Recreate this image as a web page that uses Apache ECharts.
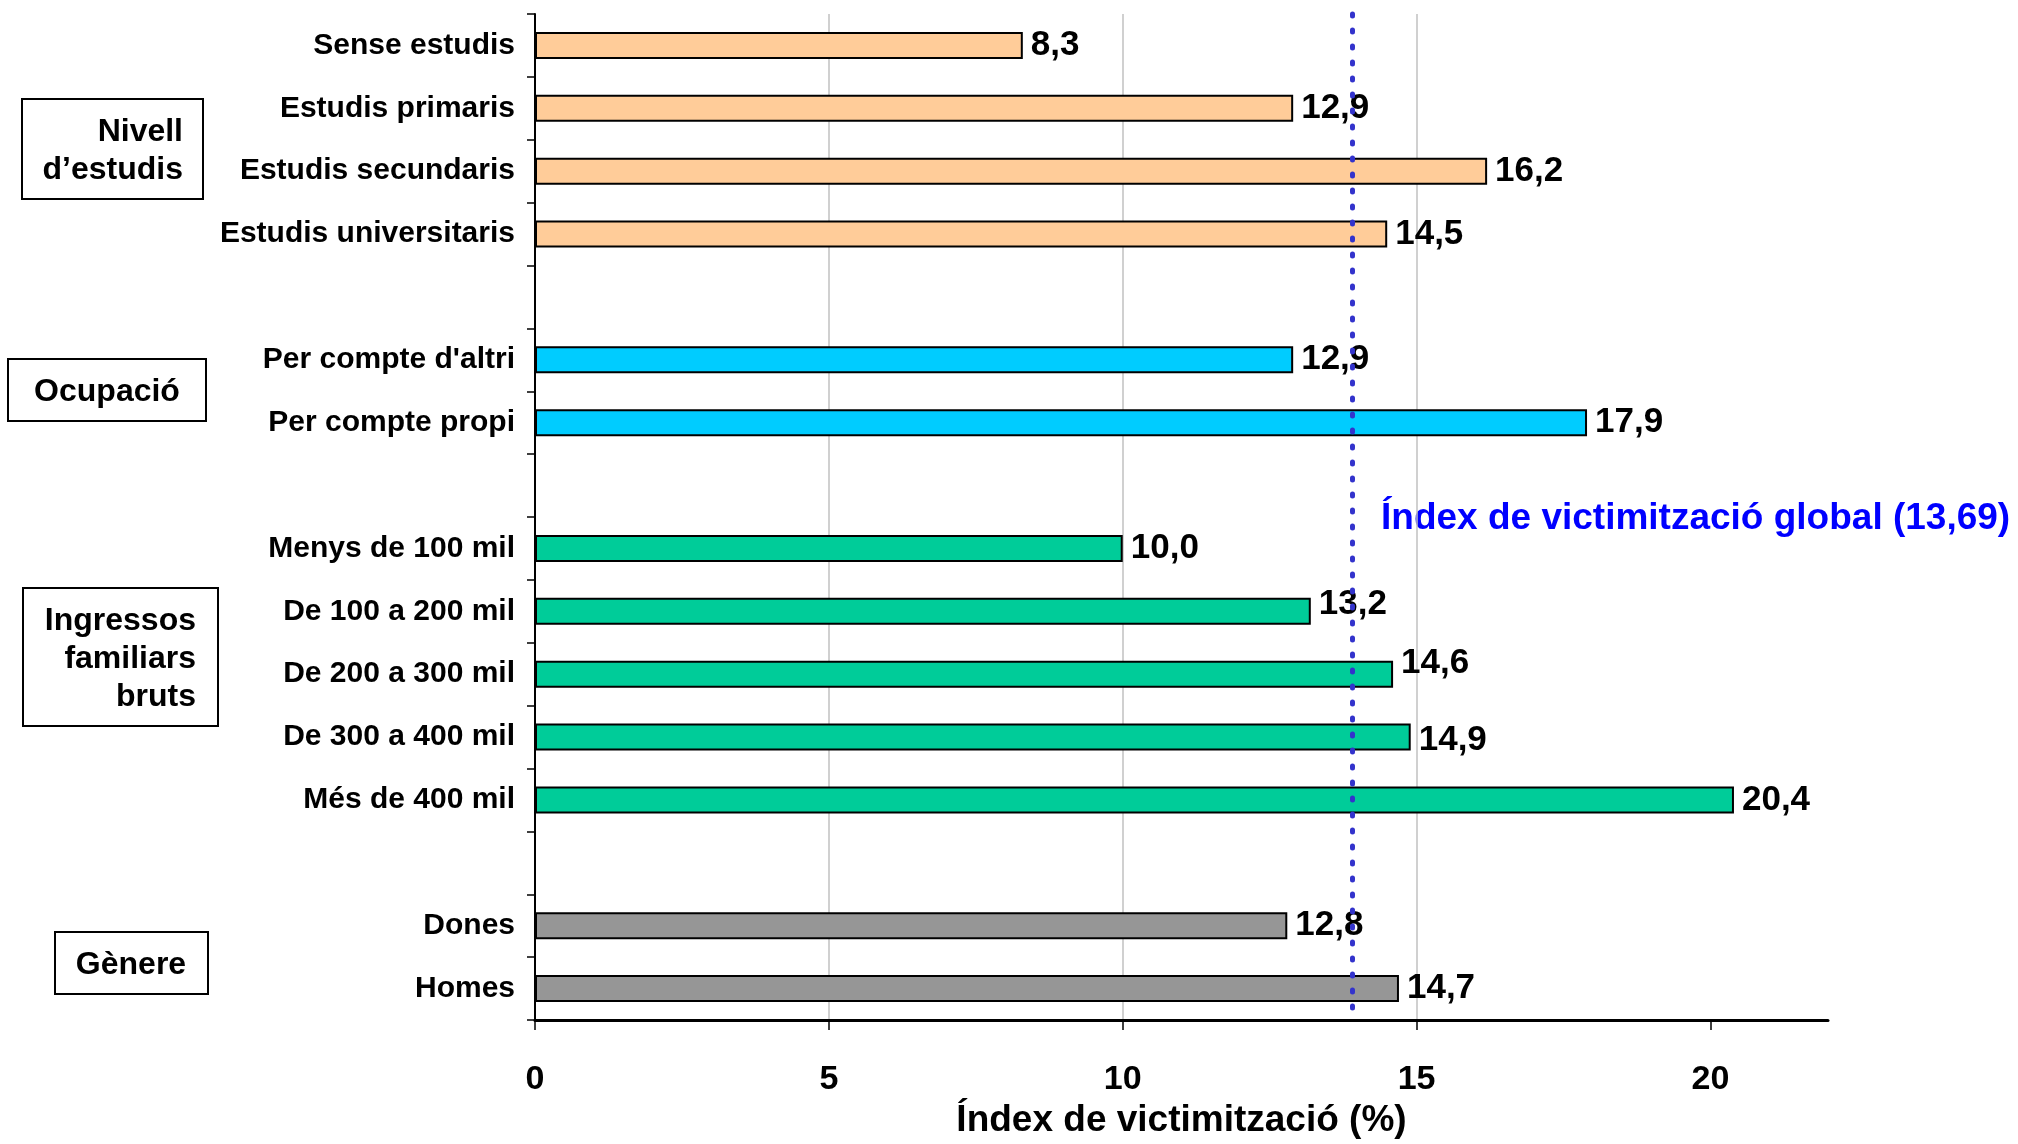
<!DOCTYPE html>
<html>
<head>
<meta charset="utf-8">
<script src="https://cdn.jsdelivr.net/npm/echarts@6/dist/echarts.min.js"></script>
<style>
  html, body { margin: 0; padding: 0; background: #fff; }
  #chart { width: 2018px; height: 1144px; }
</style>
</head>
<body>
<div id="chart"></div>
<script>
// categories top to bottom, '' = gap row between groups
const categories = [
  'Sense estudis', 'Estudis primaris', 'Estudis secundaris', 'Estudis universitaris',
  '',
  "Per compte d'altri", 'Per compte propi',
  '',
  'Menys de 100 mil', 'De 100 a 200 mil', 'De 200 a 300 mil', 'De 300 a 400 mil', 'Més de 400 mil',
  '',
  'Dones', 'Homes'
];
const values = [8.3, 12.9, 16.2, 14.5, null, 12.9, 17.9, null, 10.0, 13.2, 14.6, 14.9, 20.4, null, 12.8, 14.7];
// group of each row: 0 estudis, 1 ocupacio, 2 ingressos, 3 genere
const groups = [0, 0, 0, 0, null, 1, 1, null, 2, 2, 2, 2, 2, null, 3, 3];
const groupNames = ['Nivell\nd’estudis', 'Ocupació', 'Ingressos\nfamiliars\nbruts', 'Gènere'];
const xTicks = [0, 5, 10, 15, 20];
const globalIndexLabel = 'Índex de victimització global (13,69)';
const globalIndexLine = 13.9; // where the dotted line sits in the picture

const FONT = '"Liberation Sans", Arial, sans-serif';
const groupColors = ['#FFCC99', '#00CCFF', '#00CC99', '#969696'];
// a few value labels sit a bit off the bar centre in the original
const labelShift = { 'De 100 a 200 mil': -7, 'De 200 a 300 mil': -11, 'De 300 a 400 mil': 3 };

const chart = echarts.init(document.getElementById('chart'));

const barData = values.map((v, i) => {
  if (v === null) return null;
  const item = {
    value: v,
    itemStyle: { color: groupColors[groups[i]] }
  };
  if (labelShift[categories[i]]) {
    item.label = { offset: [0, labelShift[categories[i]]] };
  }
  return item;
});

function groupBox(id, text, box, align, textX, textY) {
  return {
    type: 'group',
    id,
    silent: true,
    children: [
      {
        type: 'rect',
        shape: { x: box[0], y: box[1], width: box[2], height: box[3] },
        style: { fill: '#fff', stroke: '#000', lineWidth: 2 }
      },
      {
        type: 'text',
        x: textX,
        y: textY,
        style: {
          text,
          align,
          verticalAlign: 'middle',
          font: 'bold 32px ' + FONT,
          lineHeight: 38,
          fill: '#000'
        }
      }
    ]
  };
}

const option = {
  backgroundColor: '#fff',
  animation: false,
  grid: {
    left: 535,
    right: 190,
    top: 14,
    bottom: 118,
    containLabel: false
  },
  xAxis: {
    type: 'value',
    min: 0,
    max: 22,
    interval: 5,
    name: 'Índex de victimització (%)',
    nameLocation: 'middle',
    nameGap: 82,
    nameTextStyle: {
      color: '#000',
      fontWeight: 'bold',
      fontSize: 37,
      fontFamily: FONT
    },
    axisLine: {
      show: true,
      lineStyle: { color: '#000', width: 3 }
    },
    axisTick: {
      show: true,
      length: 10,
      customValues: xTicks,
      lineStyle: { color: '#000', width: 1.5 }
    },
    axisLabel: {
      color: '#000',
      fontWeight: 'bold',
      fontSize: 34,
      fontFamily: FONT,
      margin: 43,
      customValues: xTicks
    },
    splitLine: {
      show: true,
      showMinLine: false,
      showMaxLine: false,
      lineStyle: { color: '#C0C0C0', width: 1.5 }
    }
  },
  yAxis: {
    type: 'category',
    data: categories,
    inverse: true,
    axisLine: {
      show: true,
      lineStyle: { color: '#000', width: 2 }
    },
    axisTick: {
      show: true,
      length: 8,
      lineStyle: { color: '#000', width: 1.5 }
    },
    axisLabel: {
      color: '#000',
      fontWeight: 'bold',
      fontSize: 30,
      fontFamily: FONT,
      margin: 20,
      padding: [8, 0, 0, 0]
    },
    splitLine: { show: false }
  },
  series: [
    {
      type: 'bar',
      data: barData,
      barWidth: 27,
      itemStyle: {
        borderColor: '#000',
        borderWidth: 2
      },
      label: {
        show: true,
        position: 'right',
        distance: 8,
        color: '#000',
        fontWeight: 'bold',
        fontSize: 35,
        fontFamily: FONT,
        padding: [10, 0, 0, 0],
        formatter: p => p.value.toFixed(1).replace('.', ',')
      },
      markLine: {
        silent: true,
        symbol: 'none',
        label: { show: false },
        lineStyle: {
          color: '#3333CC',
          width: 5,
          type: [2, 14],
          cap: 'round'
        },
        data: [{ xAxis: globalIndexLine }]
      },
      z: 2
    }
  ],
  graphic: [
    groupBox('g0', groupNames[0], [22, 99, 181, 100], 'right', 183, 151),
    groupBox('g1', groupNames[1], [8, 359, 198, 62], 'center', 107, 392),
    groupBox('g2', groupNames[2], [23, 588, 195, 138], 'right', 196, 659),
    groupBox('g3', groupNames[3], [55, 932, 153, 62], 'center', 131, 965),
    {
      type: 'text',
      id: 'global-label',
      x: 1381,
      y: 519,
      silent: true,
      style: {
        text: globalIndexLabel,
        verticalAlign: 'middle',
        font: 'bold 37px ' + FONT,
        fill: '#0000FF'
      }
    }
  ]
};

chart.setOption(option);
</script>
</body>
</html>
